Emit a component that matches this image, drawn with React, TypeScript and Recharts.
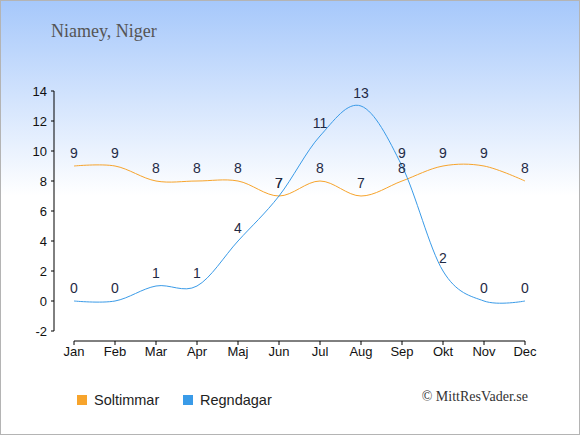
import React from 'react';
import { LineChart, Line, XAxis, YAxis, LabelList } from 'recharts';

const months = ['Jan', 'Feb', 'Mar', 'Apr', 'Maj', 'Jun', 'Jul', 'Aug', 'Sep', 'Okt', 'Nov', 'Dec'];
const sunHours = [9, 9, 8, 8, 8, 7, 8, 7, 8, 9, 9, 8];
const rainDays = [0, 0, 1, 1, 4, 7, 11, 13, 9, 2, 0, 0];
const yTicks = [-2, 0, 2, 4, 6, 8, 10, 12, 14];

const SUN_COLOR = '#f7a42c';
const RAIN_COLOR = '#3a9be8';
const LABEL_COLOR = '#1f2a44';

const data = months.map((month, i) => ({ month, sun: sunHours[i], rain: rainDays[i] }));

// cardinal spline (tension 0), same as d3's curveCardinal
const cardinal = (context: any) => {
  const k = 1 / 6;
  let x0 = NaN, x1 = NaN, x2 = NaN, y0 = NaN, y1 = NaN, y2 = NaN;
  let pt = 0;
  let line = NaN;
  const bez = (x: number, y: number) =>
    context.bezierCurveTo(x1 + k * (x2 - x0), y1 + k * (y2 - y0), x2 + k * (x1 - x), y2 + k * (y1 - y), x2, y2);
  return {
    areaStart() { line = 0; },
    areaEnd() { line = NaN; },
    lineStart() { x0 = x1 = x2 = y0 = y1 = y2 = NaN; pt = 0; },
    lineEnd() {
      if (pt === 2) context.lineTo(x2, y2);
      else if (pt === 3) bez(x1, y1);
      if (line || (line !== 0 && pt === 1)) context.closePath();
      line = 1 - line;
    },
    point(x: number, y: number) {
      switch (pt) {
        case 0: pt = 1; if (line) context.lineTo(x, y); else context.moveTo(x, y); break;
        case 1: pt = 2; x1 = x; y1 = y; break;
        case 2: pt = 3; bez(x, y); break;
        default: bez(x, y); break;
      }
      x0 = x1; x1 = x2; x2 = x;
      y0 = y1; y1 = y2; y2 = y;
    },
  };
};

const tickStyle = { fontSize: 13, fill: '#111', fontFamily: 'Liberation Sans, Arial, sans-serif' };
const labelStyle = { fontSize: 14, fill: LABEL_COLOR, fontFamily: 'Liberation Sans, Arial, sans-serif' };

const LegendItem = ({ color, text, left }: { color: string; text: string; left: number }) => (
  <div style={{ position: 'absolute', left, top: 392, height: 14, display: 'flex', alignItems: 'center' }}>
    <div style={{ width: 10, height: 10, background: color, marginRight: 7 }} />
    <span style={{ fontFamily: 'Liberation Sans, Arial, sans-serif', fontSize: 14.5, color: '#222', lineHeight: '14px' }}>{text}</span>
  </div>
);

export default function App() {
  return (
    <div
      style={{
        position: 'absolute', left: 0, top: 0, width: 580, height: 435, boxSizing: 'border-box',
        border: '1px solid #b4b4b4', background: 'linear-gradient(to bottom, #a6c8fb 0%, #ffffff 45%, #ffffff 100%)',
        overflow: 'hidden',
      }}
    >
      <div style={{ position: 'absolute', left: 50, top: 21, fontFamily: 'Liberation Serif, Times New Roman, serif', fontSize: 18, lineHeight: '18px', color: '#555' }}>
        Niamey, Niger
      </div>
      <div style={{ position: 'absolute', left: -1, top: -1 }}>
        <LineChart width={580} height={435} data={data} margin={{ top: 91, right: 55, bottom: 64, left: 14 }}>
          <XAxis
            xAxisId="zmain" dataKey="month" height={30} interval={0}
            tick={tickStyle} tickSize={4} tickLine={{ stroke: '#000' }} axisLine={{ stroke: '#000' }}
          />
          <XAxis xAxisId="aspacer" dataKey="month" height={10} tick={false} axisLine={false} tickLine={false} />
          <YAxis
            yAxisId="zmain" type="number" domain={[-2, 14]} ticks={yTicks} interval={0} width={40}
            tick={tickStyle} tickSize={3} tickMargin={4} tickLine={{ stroke: '#000' }} axisLine={{ stroke: '#000' }}
          />
          <YAxis yAxisId="aspacer" type="number" domain={[0, 1]} width={20} tick={false} axisLine={false} tickLine={false} />
          <Line
            xAxisId="zmain" yAxisId="zmain" dataKey="sun" name="Soltimmar" type={cardinal as any}
            stroke={SUN_COLOR} strokeWidth={1} dot={false} activeDot={false} isAnimationActive={false}
          >
            <LabelList dataKey="sun" position="top" offset={8} style={labelStyle} />
          </Line>
          <Line
            xAxisId="zmain" yAxisId="zmain" dataKey="rain" name="Regndagar" type={cardinal as any}
            stroke={RAIN_COLOR} strokeWidth={1} dot={false} activeDot={false} isAnimationActive={false}
          >
            <LabelList dataKey="rain" position="top" offset={8} style={labelStyle} />
          </Line>
        </LineChart>
      </div>
      <LegendItem color={SUN_COLOR} text="Soltimmar" left={76} />
      <LegendItem color={RAIN_COLOR} text="Regndagar" left={182} />
      <div style={{ position: 'absolute', right: 51, top: 389, fontFamily: 'Liberation Serif, Times New Roman, serif', fontSize: 14, lineHeight: '14px', color: '#333' }}>
        © MittResVader.se
      </div>
    </div>
  );
}
